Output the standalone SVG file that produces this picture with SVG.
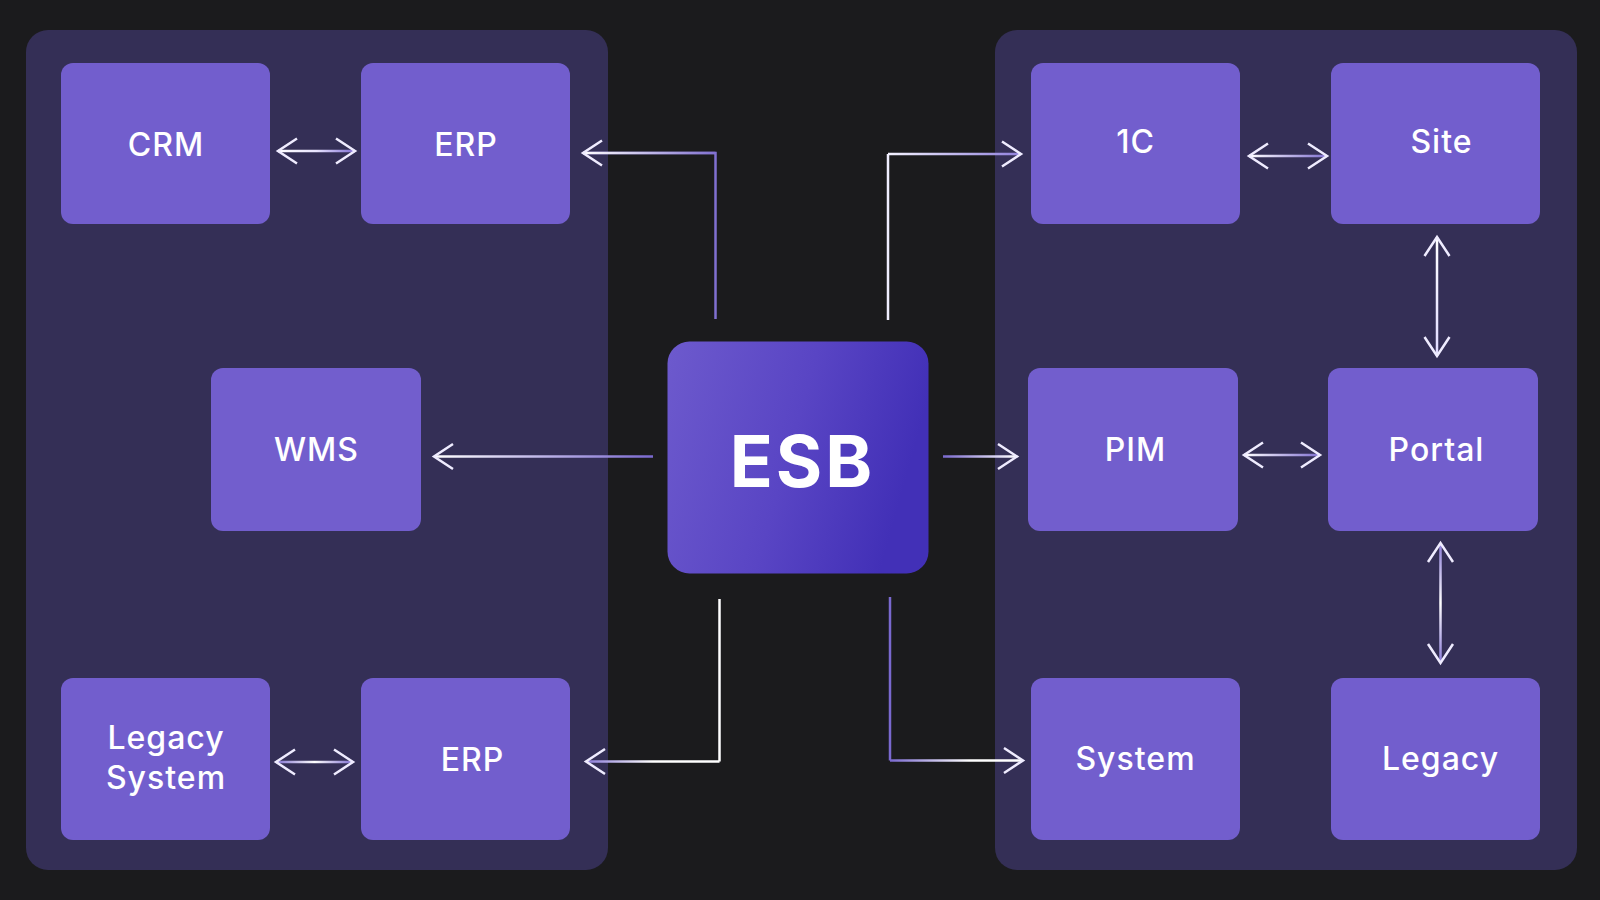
<svg xmlns="http://www.w3.org/2000/svg" width="1600" height="900" viewBox="0 0 1600 900">
<defs>
<style>
.panel{fill:#342f56}
.node rect{fill:#725ecd}
.lbl{font-family:Inter,"Open Sans","Liberation Sans",sans-serif;font-weight:500;font-size:32px;letter-spacing:1px;fill:#ffffff;text-anchor:middle}
.esb{font-family:Inter,"Open Sans","Liberation Sans",sans-serif;font-weight:700;font-size:71px;letter-spacing:3px;fill:#ffffff;text-anchor:middle}
.c{fill:none;stroke-width:2.5}
</style>
<linearGradient id="esbg" x1="0" y1="0" x2="1" y2="0.25">
<stop offset="0" stop-color="#6d5acd"/>
<stop offset="0.55" stop-color="#5945c4"/>
<stop offset="1" stop-color="#4230b7"/>
</linearGradient>
<marker id="ah" viewBox="0 0 22 28" refX="20" refY="14" markerWidth="22" markerHeight="28" markerUnits="userSpaceOnUse" orient="auto-start-reverse" overflow="visible">
<path d="M1,1.5 L20,14 L1,26.5" fill="none" stroke="#efecff" stroke-width="2.5"/>
</marker>
<linearGradient id="g1" gradientUnits="userSpaceOnUse" x1="278" y1="0" x2="355" y2="0"><stop offset="0" stop-color="#ffffff"/><stop offset="0.5" stop-color="#e8e4ff"/><stop offset="1" stop-color="#7d6bd2"/></linearGradient>
<linearGradient id="g2" gradientUnits="userSpaceOnUse" x1="583" y1="0" x2="716" y2="0"><stop offset="0" stop-color="#ffffff"/><stop offset="1" stop-color="#8070d0"/></linearGradient>
<linearGradient id="g3" gradientUnits="userSpaceOnUse" x1="888" y1="0" x2="1021" y2="0"><stop offset="0" stop-color="#f4f2ff"/><stop offset="1" stop-color="#8f80dc"/></linearGradient>
<linearGradient id="g4" gradientUnits="userSpaceOnUse" x1="434" y1="0" x2="653" y2="0"><stop offset="0" stop-color="#ffffff"/><stop offset="1" stop-color="#7a69cf"/></linearGradient>
<linearGradient id="g5" gradientUnits="userSpaceOnUse" x1="943" y1="0" x2="1017" y2="0"><stop offset="0" stop-color="#7a69cf"/><stop offset="1" stop-color="#ffffff"/></linearGradient>
<linearGradient id="g6" gradientUnits="userSpaceOnUse" x1="586" y1="0" x2="720" y2="0"><stop offset="0" stop-color="#8a7ad8"/><stop offset="0.5" stop-color="#ffffff"/><stop offset="1" stop-color="#ffffff"/></linearGradient>
<linearGradient id="g7" gradientUnits="userSpaceOnUse" x1="890" y1="0" x2="1023" y2="0"><stop offset="0" stop-color="#7a69cf"/><stop offset="0.6" stop-color="#ffffff"/><stop offset="1" stop-color="#ffffff"/></linearGradient>
<linearGradient id="g8" gradientUnits="userSpaceOnUse" x1="276" y1="0" x2="353" y2="0"><stop offset="0" stop-color="#8070d0"/><stop offset="0.5" stop-color="#ffffff"/><stop offset="1" stop-color="#8070d0"/></linearGradient>
<linearGradient id="g9" gradientUnits="userSpaceOnUse" x1="1249" y1="0" x2="1327" y2="0"><stop offset="0" stop-color="#ffffff"/><stop offset="1" stop-color="#8070d0"/></linearGradient>
<linearGradient id="g10" gradientUnits="userSpaceOnUse" x1="0" y1="237" x2="0" y2="356"><stop offset="0" stop-color="#ffffff"/><stop offset="1" stop-color="#e0dbff"/></linearGradient>
<linearGradient id="g11" gradientUnits="userSpaceOnUse" x1="1244" y1="0" x2="1320" y2="0"><stop offset="0" stop-color="#ffffff"/><stop offset="1" stop-color="#8070d0"/></linearGradient>
<linearGradient id="g12" gradientUnits="userSpaceOnUse" x1="0" y1="543" x2="0" y2="663"><stop offset="0" stop-color="#8a7ad8"/><stop offset="0.5" stop-color="#ffffff"/><stop offset="1" stop-color="#8a7ad8"/></linearGradient>
</defs>
<rect width="1600" height="900" fill="#1b1b1d"/>
<rect class="panel" x="26" y="30" width="582" height="840" rx="22"/>
<rect class="panel" x="995" y="30" width="582" height="840" rx="22"/>

<g id="connectors">
<line class="c" x1="278" y1="151" x2="355" y2="151" stroke="url(#g1)" marker-start="url(#ah)" marker-end="url(#ah)"/>
<path class="c" d="M715.5,319 V153 H583" stroke="#8070d0"/>
<line class="c" x1="715.5" y1="153" x2="583" y2="153" stroke="url(#g2)" marker-end="url(#ah)"/>
<path class="c" d="M888,320 V154" stroke="#f0eeff"/>
<line class="c" x1="888" y1="154" x2="1021" y2="154" stroke="url(#g3)" marker-end="url(#ah)"/>
<line class="c" x1="653" y1="456.5" x2="434" y2="456.5" stroke="url(#g4)" marker-end="url(#ah)"/>
<line class="c" x1="943" y1="456.5" x2="1017" y2="456.5" stroke="url(#g5)" marker-end="url(#ah)"/>
<path class="c" d="M719.5,599 V761.5" stroke="#ffffff"/>
<line class="c" x1="719.5" y1="761.5" x2="586" y2="761.5" stroke="url(#g6)" marker-end="url(#ah)"/>
<path class="c" d="M890,597 V760.5" stroke="#7a69cf"/>
<line class="c" x1="890" y1="760.5" x2="1023" y2="760.5" stroke="url(#g7)" marker-end="url(#ah)"/>
<line class="c" x1="276" y1="762" x2="353" y2="762" stroke="url(#g8)" marker-start="url(#ah)" marker-end="url(#ah)"/>
<line class="c" x1="1249" y1="156" x2="1327" y2="156" stroke="url(#g9)" marker-start="url(#ah)" marker-end="url(#ah)"/>
<line class="c" x1="1437" y1="237" x2="1437" y2="356" stroke="url(#g10)" marker-start="url(#ah)" marker-end="url(#ah)"/>
<line class="c" x1="1244" y1="455" x2="1320" y2="455" stroke="url(#g11)" marker-start="url(#ah)" marker-end="url(#ah)"/>
<line class="c" x1="1440.5" y1="543" x2="1440.5" y2="663" stroke="url(#g12)" marker-start="url(#ah)" marker-end="url(#ah)"/>
</g>

<g id="crm" class="node"><rect x="61" y="63" width="209" height="161" rx="12"/><text class="lbl" x="166" y="156">CRM</text></g>
<g id="erp-top" class="node"><rect x="361" y="63" width="209" height="161" rx="12"/><text class="lbl" x="466" y="156">ERP</text></g>
<g id="wms" class="node"><rect x="211" y="368" width="210" height="163" rx="12"/><text class="lbl" x="316.5" y="461">WMS</text></g>
<g id="legacy-system" class="node"><rect x="61" y="678" width="209" height="162" rx="12"/><text class="lbl" x="166" y="749">Legacy</text><text class="lbl" x="166" y="789">System</text></g>
<g id="erp-bottom" class="node"><rect x="361" y="678" width="209" height="162" rx="12"/><text class="lbl" x="472.5" y="770.5">ERP</text></g>

<g id="esb"><rect x="667.5" y="341.5" width="261" height="232" rx="22" fill="url(#esbg)"/><text class="esb" x="802.5" y="486.5">ESB</text></g>

<g id="n1c" class="node"><rect x="1031" y="63" width="209" height="161" rx="12"/><text class="lbl" x="1135.5" y="153">1C</text></g>
<g id="site" class="node"><rect x="1331" y="63" width="209" height="161" rx="12"/><text class="lbl" x="1441.5" y="153">Site</text></g>
<g id="pim" class="node"><rect x="1028" y="368" width="210" height="163" rx="12"/><text class="lbl" x="1135.5" y="461">PIM</text></g>
<g id="portal" class="node"><rect x="1328" y="368" width="210" height="163" rx="12"/><text class="lbl" x="1436.5" y="461">Portal</text></g>
<g id="system" class="node"><rect x="1031" y="678" width="209" height="162" rx="12"/><text class="lbl" x="1135.5" y="769.5">System</text></g>
<g id="legacy" class="node"><rect x="1331" y="678" width="209" height="162" rx="12"/><text class="lbl" x="1440.5" y="770">Legacy</text></g>
</svg>
